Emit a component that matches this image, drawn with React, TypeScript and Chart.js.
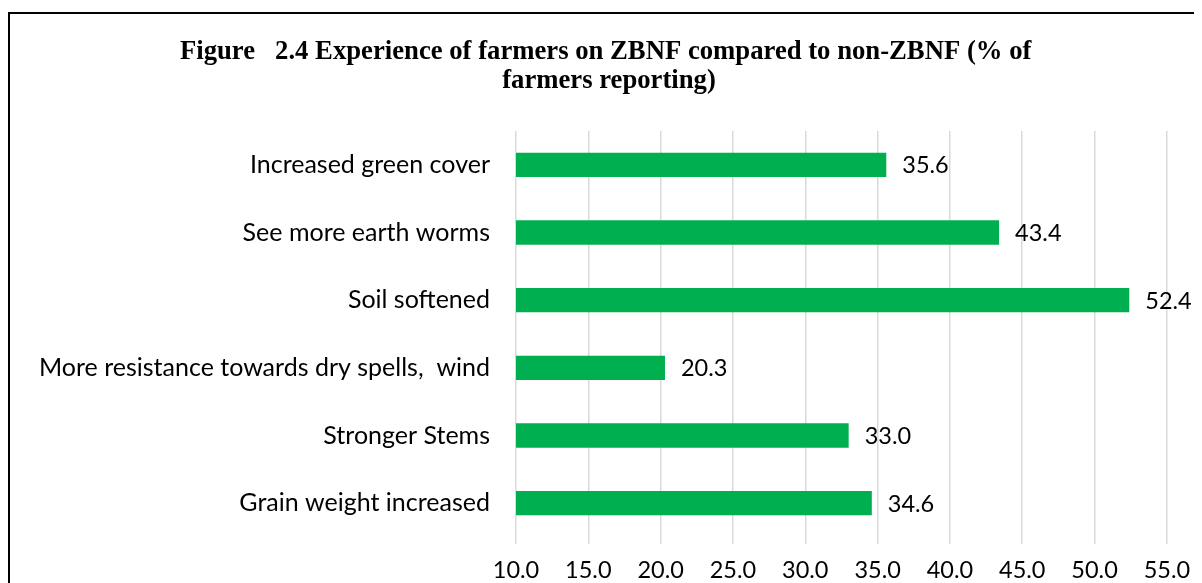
import React, { useEffect, useRef } from "react";
import { Chart, registerables } from "chart.js";

Chart.register(...registerables);

const categories = [
  "Increased green cover",
  "See more earth worms",
  "Soil softened",
  "More resistance towards dry spells,  wind",
  "Stronger Stems",
  "Grain weight increased",
];
const values = [35.6, 43.4, 52.4, 20.3, 33.0, 34.6];
const titleLines = [
  "Figure   2.4 Experience of farmers on ZBNF compared to non-ZBNF (% of ",
  "farmers reporting)",
];
const axisMin = 10;
const axisMax = 55;
const axisStep = 5;

const FONT = "Lato";
const NUM_SIZE = 23.5;

const labelPlugin = {
  id: "barLabels",
  afterDatasetsDraw(chart: any) {
    const ctx = chart.ctx;
    const meta = chart.getDatasetMeta(0);
    ctx.save();
    ctx.font = `${NUM_SIZE}px ${FONT}`;
    ctx.fillStyle = "#000000";
    ctx.textAlign = "left";
    ctx.textBaseline = "middle";
    meta.data.forEach((bar: any, i: number) => {
      const v = chart.data.datasets[0].data[i] as number;
      ctx.fillText(v.toFixed(1), bar.x + 16, bar.y + 1);
    });
    ctx.restore();
  },
};

const titlePlugin = {
  id: "customTitle",
  afterDraw(chart: any) {
    const ctx = chart.ctx;
    ctx.save();
    ctx.font = `bold 26.7px "Liberation Serif"`;
    ctx.fillStyle = "#000000";
    ctx.textAlign = "center";
    ctx.textBaseline = "alphabetic";
    titleLines.forEach((line, i) => {
      ctx.fillText(line, 601, 51.3 + i * 28.4);
    });
    ctx.restore();
  },
};

export default function App() {
  const ref = useRef<HTMLCanvasElement | null>(null);
  useEffect(() => {
    if (!ref.current) return;
    const chart = new Chart(ref.current, {
      type: "bar",
      data: {
        labels: categories,
        datasets: [
          {
            data: values,
            backgroundColor: "#00B050",
            barPercentage: 0.36,
            categoryPercentage: 1,
          },
        ],
      },
      options: {
        indexAxis: "y",
        animation: false,
        responsive: false,
        devicePixelRatio: 1,
        layout: { padding: { left: 0, right: 35, top: 123, bottom: 3 } },
        plugins: {
          legend: { display: false },
          tooltip: { enabled: false },
          title: { display: false },
        },
        scales: {
          x: {
            min: axisMin,
            max: axisMax,
            ticks: {
              stepSize: axisStep,
              color: "#000000",
              font: { family: FONT, size: NUM_SIZE },
              padding: 11.9,
              callback: (v: any) => Number(v).toFixed(1),
            },
            grid: { color: "#d9d9d9", lineWidth: 1.5, tickLength: 7, drawTicks: true },
            border: { display: false },
          },
          y: {
            ticks: {
              color: "#000000",
              font: { family: FONT, size: 25 },
              padding: 18,
            },
            grid: { display: false },
            border: { display: false },
            afterFit: (scale: any) => {
              scale.width = 508;
            },
          },
        },
      },
      plugins: [labelPlugin, titlePlugin],
    });
    return () => chart.destroy();
  }, []);

  return (
    <div style={{ position: "relative", width: 1194, height: 575, overflow: "hidden" }}>
      <div
        style={{
          position: "absolute",
          left: 0,
          top: 4,
          width: 1400,
          height: 800,
          borderTop: "2px solid #000",
          borderLeft: "2px solid #000",
          boxSizing: "border-box",
        }}
      />
      <canvas
        ref={ref}
        width={1194}
        height={591}
        style={{ position: "absolute", left: 0, top: 0, width: 1194, height: 591 }}
      />
    </div>
  );
}
